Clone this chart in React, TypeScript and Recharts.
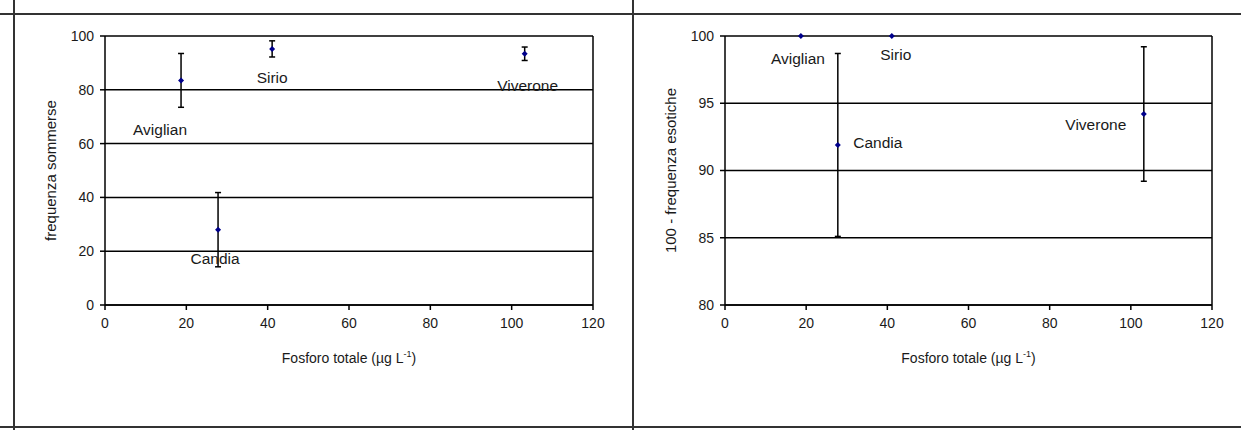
import React from "react";
import {
  ScatterChart,
  Scatter,
  XAxis,
  YAxis,
  CartesianGrid,
  ErrorBar,
  ReferenceLine,
  Label,
} from "recharts";

// lakes and total phosphorus (µg L-1)
const lakes = ["Aviglian", "Sirio", "Candia", "Viverone"];
const fosforo = [18.7, 41.1, 27.8, 103.2];

// left panel: frequenza sommerse (mean ± error)
const sommerse = [83.5, 95.2, 28, 93.4];
const sommerseErr = [10, 3, 13.8, 2.5];

// right panel: 100 - frequenza esotiche
const esotiche = [100, 100, 91.9, 94.2];
const esoticheErr = [0, 0, 6.8, 5];

const xTicks = [0, 20, 40, 60, 80, 100, 120];
const leftTicks = [0, 20, 40, 60, 80, 100];
const rightTicks = [80, 85, 90, 95, 100];

// label placement relative to each point (px)
const leftLabelPos: Record<string, [number, number]> = {
  Aviglian: [-21, 49],
  Sirio: [0, 29],
  Candia: [-3, 29],
  Viverone: [3, 32],
};
const rightLabelPos: Record<string, [number, number]> = {
  Aviglian: [-3, 22],
  Sirio: [4, 18],
  Candia: [40, -2],
  Viverone: [-48, 10],
};

const FONT = "'Liberation Sans', Arial, sans-serif";
const TEXT = "#1a1a1a";

const toRows = (ys: number[], errs: number[]) =>
  lakes.map((name, i) => ({ name, x: fosforo[i], y: ys[i], err: errs[i] }));

const makePoint = (pos: Record<string, [number, number]>) => (props: any) => {
  const { cx, cy, payload } = props;
  const [dx, dy] = pos[payload.name] || [0, 0];
  return (
    <g>
      <path
        d={`M${cx},${cy - 3}L${cx + 3},${cy}L${cx},${cy + 3}L${cx - 3},${cy}Z`}
        fill="#00008b"
      />
      <text
        x={cx + dx}
        y={cy + dy}
        textAnchor="middle"
        dominantBaseline="central"
        fontFamily={FONT}
        fontSize={15.5}
        fill={TEXT}
      >
        {payload.name}
      </text>
    </g>
  );
};

const YTitle = ({ viewBox, value }: any) => {
  const x = viewBox.x + 50;
  const y = viewBox.y + viewBox.height / 2;
  return (
    <text
      x={x}
      y={y}
      transform={`rotate(-90 ${x} ${y})`}
      textAnchor="middle"
      dominantBaseline="central"
      fontFamily={FONT}
      fontSize={15}
      fill={TEXT}
    >
      {value}
    </text>
  );
};

const XTitle = ({ viewBox }: any) => {
  const x = viewBox.x + viewBox.width / 2;
  const y = viewBox.y + 58;
  return (
    <text x={x} y={y} textAnchor="middle" fontFamily={FONT} fontSize={14} fill={TEXT}>
      <tspan>Fosforo totale (µg L</tspan>
      <tspan dy={-6} fontSize={9}>-1</tspan>
      <tspan dy={6}>)</tspan>
    </text>
  );
};

const tickStyle = { fontFamily: FONT, fontSize: 14, fill: TEXT };

interface PanelProps {
  rows: { name: string; x: number; y: number; err: number }[];
  yDomain: [number, number];
  yTicks: number[];
  yTitle: string;
  labelPos: Record<string, [number, number]>;
  width: number;
  rightMargin: number;
}

const Panel = ({ rows, yDomain, yTicks, yTitle, labelPos, width, rightMargin }: PanelProps) => (
  <ScatterChart
    width={width}
    height={430}
    margin={{ top: 36, right: rightMargin, bottom: 65, left: 0 }}
  >
    <CartesianGrid horizontal vertical={false} stroke="#000" strokeWidth={1.5} />
    <XAxis
      type="number"
      dataKey="x"
      domain={[0, 120]}
      ticks={xTicks}
      height={60}
      tickSize={5}
      tickMargin={8}
      stroke="#000"
      strokeWidth={1.5}
      tick={tickStyle}
    >
      <Label content={<XTitle />} />
    </XAxis>
    <YAxis
      type="number"
      dataKey="y"
      domain={yDomain}
      ticks={yTicks}
      width={105}
      tickSize={5}
      tickMargin={6}
      stroke="#000"
      strokeWidth={1.5}
      tick={tickStyle}
    >
      <Label content={<YTitle value={yTitle} />} />
    </YAxis>
    <ReferenceLine x={120} stroke="#000" strokeWidth={1.5} />
    <Scatter data={rows} shape={makePoint(labelPos)} isAnimationActive={false}>
      <ErrorBar dataKey="err" direction="y" width={3} stroke="#000" strokeWidth={1.5} />
    </Scatter>
  </ScatterChart>
);

const line = (style: React.CSSProperties): React.CSSProperties => ({
  position: "absolute",
  background: "#333",
  ...style,
});

export default function App() {
  return (
    <div
      style={{
        position: "absolute",
        left: 0,
        top: 0,
        width: 1241,
        height: 430,
        background: "#fff",
        overflow: "hidden",
      }}
    >
      <div style={line({ left: 0, top: 13, width: 1241, height: 2 })} />
      <div style={line({ left: 0, top: 426, width: 1241, height: 2 })} />
      <div style={line({ left: 13, top: 0, width: 2, height: 430 })} />
      <div style={line({ left: 632, top: 0, width: 2, height: 430 })} />
      <div style={{ position: "absolute", left: 0, top: 0 }}>
        <Panel
          rows={toRows(sommerse, sommerseErr)}
          yDomain={[0, 100]}
          yTicks={leftTicks}
          yTitle="frequenza sommerse"
          labelPos={leftLabelPos}
          width={620}
          rightMargin={27}
        />
      </div>
      <div style={{ position: "absolute", left: 620, top: 0 }}>
        <Panel
          rows={toRows(esotiche, esoticheErr)}
          yDomain={[80, 100]}
          yTicks={rightTicks}
          yTitle="100 - frequenza esotiche"
          labelPos={rightLabelPos}
          width={621}
          rightMargin={29}
        />
      </div>
    </div>
  );
}
